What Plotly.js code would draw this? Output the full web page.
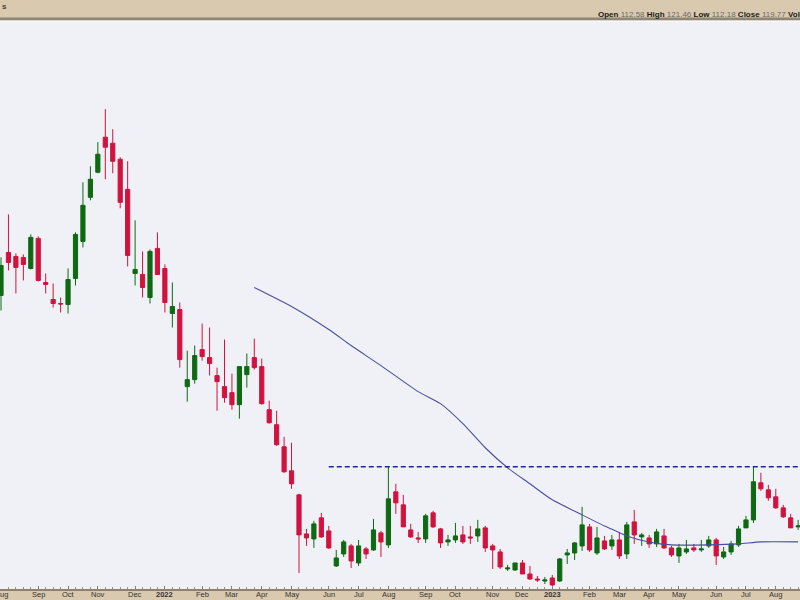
<!DOCTYPE html>
<html>
<head>
<meta charset="utf-8">
<script src="https://cdn.plot.ly/plotly-3.0.1.min.js"></script>
<style>
  html, body { margin: 0; padding: 0; background: #d9c9af; }
  #chart { width: 800px; height: 600px; }
</style>
</head>
<body>
<div id="chart"></div>
<script>
// Weekly candles (week start dates)
const weeks = [
  '2021-08-02','2021-08-09','2021-08-16','2021-08-23','2021-08-30','2021-09-06','2021-09-13','2021-09-20','2021-09-27','2021-10-04',
  '2021-10-11','2021-10-18','2021-10-25','2021-11-01','2021-11-08','2021-11-15','2021-11-22','2021-11-29','2021-12-06','2021-12-13',
  '2021-12-20','2021-12-27','2022-01-03','2022-01-10','2022-01-17','2022-01-24','2022-01-31','2022-02-07','2022-02-14','2022-02-21',
  '2022-02-28','2022-03-07','2022-03-14','2022-03-21','2022-03-28','2022-04-04','2022-04-11','2022-04-18','2022-04-25','2022-05-02',
  '2022-05-09','2022-05-16','2022-05-23','2022-05-30','2022-06-06','2022-06-13','2022-06-20','2022-06-27','2022-07-04','2022-07-11',
  '2022-07-18','2022-07-25','2022-08-01','2022-08-08','2022-08-15','2022-08-22','2022-08-29','2022-09-05','2022-09-12','2022-09-19',
  '2022-09-26','2022-10-03','2022-10-10','2022-10-17','2022-10-24','2022-10-31','2022-11-07','2022-11-14','2022-11-21','2022-11-28',
  '2022-12-05','2022-12-12','2022-12-19','2022-12-26','2023-01-02','2023-01-09','2023-01-16','2023-01-23','2023-01-30','2023-02-06',
  '2023-02-13','2023-02-20','2023-02-27','2023-03-06','2023-03-13','2023-03-20','2023-03-27','2023-04-03','2023-04-10','2023-04-17',
  '2023-04-24','2023-05-01','2023-05-08','2023-05-15','2023-05-22','2023-05-29','2023-06-05','2023-06-12','2023-06-19','2023-06-26',
  '2023-07-03','2023-07-10','2023-07-17','2023-07-24','2023-07-31','2023-08-07','2023-08-14','2023-08-21'
];
const openP = [
  204.6,221.8,220.2,219.8,215.4,227.4,209.8,203.0,201.4,201.0,
  211.4,226.2,243.8,253.8,267.8,265.4,259.0,247.0,213.4,213.0,
  203.8,223.4,215.4,197.4,199.0,168.2,171.0,183.0,179.8,172.6,
  168.2,165.8,161.0,173.0,179.8,176.2,159.0,153.0,144.2,134.6,
  125.0,109.4,107.4,115.8,110.6,96.6,101.4,104.6,97.8,103.4,
  103.0,109.8,105.0,126.2,121.0,111.0,107.8,107.4,117.8,111.4,
  106.2,107.0,109.0,108.2,108.6,111.8,104.6,102.2,95.4,95.0,
  97.8,93.4,91.4,90.6,91.8,90.6,101.0,101.8,104.6,112.2,
  101.8,106.6,104.6,107.0,101.4,114.2,108.2,107.8,105.4,108.6,
  103.8,100.6,102.2,103.8,103.0,104.6,107.0,100.2,102.2,105.0,
  111.8,115.0,129.8,127.0,124.2,119.8,115.8,112.2
];
const highP = [
  219.8,237.0,221.4,221.0,229.0,228.2,213.4,209.4,203.8,215.4,
  229.8,249.8,256.2,265.8,279.0,271.0,259.8,258.2,234.6,222.2,
  223.0,229.8,217.0,209.8,201.8,182.6,184.6,193.4,191.8,175.8,
  187.0,173.4,176.2,181.4,187.4,179.4,162.6,158.6,148.2,145.8,
  125.4,111.4,114.6,117.8,112.6,103.0,107.0,105.4,107.0,104.2,
  115.4,110.6,136.2,129.4,125.0,113.4,110.2,117.4,118.6,111.8,
  109.0,113.8,112.6,112.6,115.0,112.6,105.4,103.4,97.0,97.8,
  99.0,96.6,92.6,92.2,93.0,99.8,103.4,106.2,120.2,113.4,
  112.2,108.6,109.0,110.2,114.2,119.0,109.8,109.0,111.4,111.4,
  104.6,105.4,107.0,105.4,107.0,108.6,107.8,104.2,106.6,112.6,
  116.6,136.2,133.8,129.0,127.4,121.0,117.4,115.0
];
const lowP = [
  198.6,214.6,205.4,210.6,215.0,210.2,205.4,199.8,197.8,197.4,
  208.6,223.8,242.6,253.4,251.0,253.4,239.4,216.2,208.6,203.8,
  201.4,213.0,197.8,191.8,175.8,162.2,169.4,178.6,172.6,158.6,
  161.8,159.0,155.4,167.8,175.0,161.0,153.4,144.6,133.8,127.4,
  93.8,104.6,103.8,107.8,103.4,96.2,100.2,95.8,96.6,99.4,
  102.6,100.2,103.8,117.4,112.2,107.8,105.8,105.8,111.8,103.8,
  104.6,105.8,105.4,105.4,106.2,102.2,95.4,95.4,94.6,94.6,
  93.4,91.0,90.2,89.4,88.6,90.2,97.4,99.0,102.6,102.2,
  101.0,103.0,103.0,99.4,99.4,105.4,104.6,103.8,104.2,103.4,
  100.2,97.8,101.4,102.2,102.2,103.8,97.0,99.4,101.0,104.2,
  111.8,113.8,126.6,122.6,119.4,115.8,111.8,111.0
];
const closeP = [
  216.6,217.8,215.8,217.0,227.8,210.6,209.0,201.4,201.2,211.0,
  229.0,240.6,251.0,261.0,263.8,258.2,241.8,220.6,215.0,207.8,
  222.2,213.0,201.8,200.2,179.0,171.0,180.6,180.2,177.4,170.2,
  163.8,161.0,176.2,176.2,175.8,161.4,153.8,145.0,134.2,129.4,
  109.0,107.8,113.4,108.2,103.8,99.8,106.2,98.6,104.6,101.4,
  111.0,106.2,123.4,121.8,112.2,108.2,107.4,116.6,112.2,105.8,
  107.0,108.6,106.2,107.8,111.4,103.8,103.0,96.2,95.8,97.8,
  93.4,91.4,91.0,91.0,89.0,99.4,101.8,105.8,113.0,103.0,
  107.8,103.4,107.0,100.6,113.0,109.0,109.0,105.4,110.2,103.8,
  101.0,103.8,103.4,103.0,103.4,107.0,100.6,102.2,105.4,111.4,
  115.0,130.2,127.4,123.8,119.8,116.2,111.8,112.6
];

// Moving average line (read at sample weeks)
const maWeeks = ['2022-03-28','2022-05-02','2022-06-06','2022-06-27','2022-07-25','2022-08-29','2022-09-19','2022-10-10','2022-10-31','2022-11-21',
                 '2022-12-12','2023-01-02','2023-01-30','2023-02-20','2023-03-13','2023-04-03','2023-04-24','2023-05-29','2023-06-26','2023-07-17','2023-08-21'];
const maValues = [207.8,200.2,191.0,184.6,176.6,166.2,161.4,153.4,143.8,135.8,
                  129.4,123.0,117.0,112.6,108.6,106.2,105.0,105.0,105.4,106.2,106.2];

// Horizontal resistance level
const resistanceStart = '2022-06-06';
const resistanceEnd = '2023-09-30';
const resistanceLevel = 136.2;

// Month tick labels
const tickDates = ['2021-08-02','2021-09-06','2021-10-04','2021-11-01','2021-12-06','2022-01-03','2022-02-07','2022-03-07','2022-04-04','2022-05-02',
                   '2022-06-06','2022-07-04','2022-08-01','2022-09-05','2022-10-03','2022-11-07','2022-12-05','2023-01-02','2023-02-06','2023-03-06',
                   '2023-04-03','2023-05-01','2023-06-05','2023-07-03','2023-07-31'];
const tickLabels = ['Aug','Sep','Oct','Nov','Dec','<b>2022</b>','Feb','Mar','Apr','May',
                    'Jun','Jul','Aug','Sep','Oct','Nov','Dec','<b>2023</b>','Feb','Mar',
                    'Apr','May','Jun','Jul','Aug'];

const traces = [
  {
    type: 'candlestick',
    x: weeks, open: openP, high: highP, low: lowP, close: closeP,
    increasing: { line: { color: '#0d6a12', width: 1 }, fillcolor: '#0d6a12' },
    decreasing: { line: { color: '#d1123f', width: 1 }, fillcolor: '#d1123f' },
    whiskerwidth: 0,
    hoverinfo: 'skip',
    showlegend: false
  },
  {
    type: 'scatter', mode: 'lines',
    x: maWeeks, y: maValues,
    line: { color: '#4b4f9c', width: 1.1, shape: 'spline', smoothing: 0.6 },
    hoverinfo: 'skip', showlegend: false
  },
  {
    type: 'scatter', mode: 'lines',
    x: [resistanceStart, resistanceEnd], y: [resistanceLevel, resistanceLevel],
    line: { color: '#1a2a8a', width: 1.5, dash: '5px,3px' },
    hoverinfo: 'skip', showlegend: false
  }
];

const TOP = 21, BOTTOM = 589, H = BOTTOM - TOP;
function py(pix) { return (BOTTOM - pix) / H; }

const tickFont = { family: 'Liberation Sans, Arial, sans-serif', size: 7.5, color: '#333333' };

// month labels drawn as text under the axis, at the tick dates
const monthLabels = tickDates.map((d, k) => ({
  xref: 'x', yref: 'paper', x: d, y: py(594.5), xanchor: 'center', yanchor: 'middle',
  text: tickLabels[k], showarrow: false, font: tickFont
}));

const layout = {
  width: 800, height: 600,
  margin: { l: 0, r: 0, t: TOP, b: 600 - BOTTOM, pad: 0 },
  paper_bgcolor: '#d9c9af',
  plot_bgcolor: '#f0f1f6',
  boxgap: 0.2,
  showlegend: false,
  hovermode: false,
  xaxis: {
    type: 'date',
    range: ['2021-08-01 01:30', '2023-08-22 18:00'],
    rangeslider: { visible: false },
    tickmode: 'array', tickvals: tickDates, ticktext: tickLabels,
    showticklabels: false,
    ticks: 'inside', ticklen: 3, tickcolor: '#8c8372', tickwidth: 1,
    minor: { ticks: 'inside', ticklen: 2, tickcolor: '#9c9282', dtick: 604800000, tick0: '2021-08-02', showgrid: false },
    showgrid: false, zeroline: false,
    showline: true, linecolor: '#8c8372', linewidth: 2, mirror: false,
    fixedrange: true
  },
  yaxis: {
    range: [87.4, 314.2],
    visible: false, showgrid: false, zeroline: false, fixedrange: true
  },
  shapes: [
    { type: 'rect', xref: 'paper', yref: 'paper', x0: 0, x1: 1, y0: py(20.5), y1: py(17.5),
      fillcolor: '#8f8675', line: { width: 0 }, layer: 'above' },
    { type: 'rect', xref: 'paper', yref: 'paper', x0: 0, x1: 1, y0: py(21.5), y1: py(20.5),
      fillcolor: '#ffffff', line: { width: 0 }, layer: 'above' }
  ],
  annotations: monthLabels.concat([
    { xref: 'paper', yref: 'paper', x: 0, y: py(7), xanchor: 'left', yanchor: 'middle',
      text: '<b>s</b>', showarrow: false, font: { family: 'Liberation Sans, Arial, sans-serif', size: 8, color: '#4a4030' } },
    { xref: 'paper', yref: 'paper', x: 596 / 800, y: py(15), xanchor: 'left', yanchor: 'middle',
      text: '<b>Open</b> <span style="color:#6a6a6a">112.58</span> <b>High</b> <span style="color:#6a6a6a">121.46</span> <b>Low</b> <span style="color:#6a6a6a">112.18</span> <b>Close</b> <span style="color:#6a6a6a">119.77</span> <b>Volume</b> <span style="color:#6a6a6a">3.2M</span>',
      showarrow: false, font: { family: 'Liberation Sans, Arial, sans-serif', size: 8, color: '#1a1a1a' } }
  ])
};

Plotly.newPlot('chart', traces, layout, { displayModeBar: false, staticPlot: true });
</script>
</body>
</html>
